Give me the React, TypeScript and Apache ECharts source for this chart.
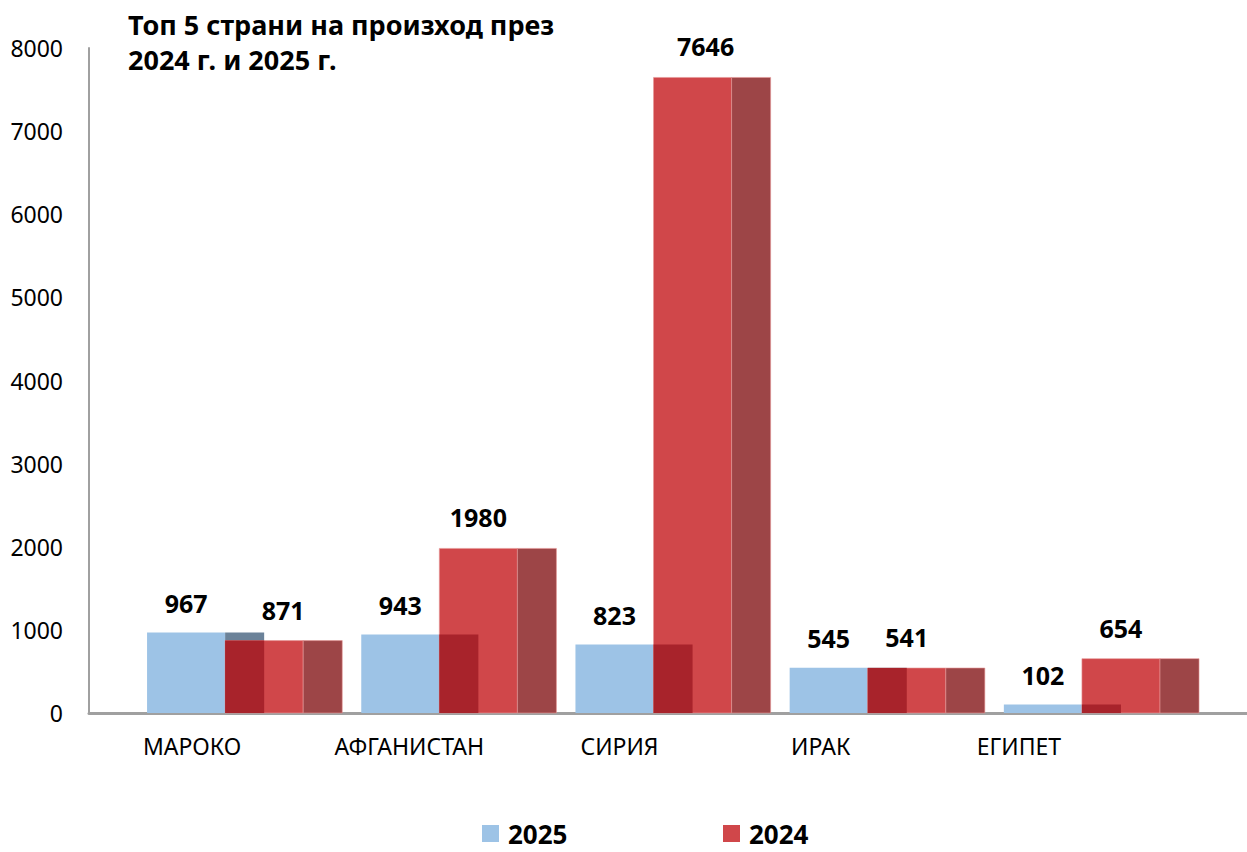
import React, { useEffect, useRef } from 'react';
import * as echarts from 'echarts';

const categories = ['МАРОКО', 'АФГАНИСТАН', 'СИРИЯ', 'ИРАК', 'ЕГИПЕТ'];
const values2025 = [967, 943, 823, 545, 102];
const values2024 = [871, 1980, 7646, 541, 654];
const seriesNames = ['2025', '2024'];
const yMin = 0;
const yMax = 8000;
const yInterval = 1000;
const titleLines = ['Топ 5 страни на произход през', '2024 г. и 2025 г.'];

// style-only nudges (px) for labels, as in the reference layout
const categoryLabelShift = [-4, -1, -5, -18, -34];
const label2024Shift = [19, 0, 13, 0, 0];

const FONT = '"Noto Sans", "Open Sans", sans-serif';
const C_BLUE = '#9dc3e6';
const C_BLUE_SIDE = '#6b8299';
const C_RED = '#d0474a';
const C_RED_SIDE = '#9d4547';
const C_OVERLAP = '#a8232b';

// geometry of the pseudo-3D columns as fractions of the band width (214px)
const BAND = 214;
const BLUE_START = -49;
const FRONT_W = 78;
const SIDE_W = 39;

export default function App() {
  const ref = useRef<HTMLDivElement>(null);
  useEffect(() => {
    document.body.style.margin = '0';
    if (!ref.current) return;
    const chart = echarts.init(ref.current, undefined, { renderer: 'svg' });

    const rich: Record<string, any> = {};
    categoryLabelShift.forEach((d, i) => {
      rich['l' + i] = {
        fontSize: 23,
        fontFamily: FONT,
        color: '#000',
        padding: d < 0 ? [0, -2 * d, 0, 0] : [0, 0, 0, 2 * d],
      };
    });

    const valueLabelStyle = (text: string) => ({
      text,
      fill: '#000',
      font: `bold 25px ${FONT}`,
      align: 'center',
      verticalAlign: 'middle',
    });

    const legendBase = {
      top: 820,
      padding: 0,
      itemWidth: 17,
      itemHeight: 17,
      icon: 'rect',
      textStyle: { fontSize: 26, lineHeight: 27, fontWeight: 'bold', color: '#000', fontFamily: FONT, padding: [0, 0, 0, 4] },
    };

    const option: any = {
      animation: false,
      backgroundColor: '#fff',
      title: {
        text: titleLines.join('\n'),
        left: 128,
        top: 7,
        padding: 0,
        textStyle: { fontSize: 27, fontWeight: 'bold', lineHeight: 35, fontFamily: FONT, color: '#000' },
      },
      legend: [
        { ...legendBase, data: [seriesNames[0]], left: 482 },
        { ...legendBase, data: [seriesNames[1]], left: 723 },
      ],
      grid: [
        { left: 89, right: 87, top: 48, bottom: 139 },
        { left: 89, right: 0, top: 48, bottom: 139 },
      ],
      xAxis: [
        {
          gridIndex: 0,
          type: 'category',
          data: categories,
          axisLine: { show: false },
          axisTick: { show: false },
          axisLabel: {
            interval: 0,
            margin: 21,
            fontSize: 23,
            fontFamily: FONT,
            color: '#000',
            formatter: (v: string, idx: number) => `{l${idx}|${v}}`,
            rich,
          },
        },
        {
          gridIndex: 1,
          type: 'category',
          data: categories,
          axisLine: { show: true, lineStyle: { color: '#a0a0a0', width: 3 } },
          axisTick: { show: false },
          axisLabel: { show: false },
        },
      ],
      yAxis: [
        {
          gridIndex: 0,
          type: 'value',
          min: yMin,
          max: yMax,
          interval: yInterval,
          axisLine: { show: true, lineStyle: { color: '#a0a0a0', width: 2 } },
          axisTick: { show: false },
          splitLine: { show: false },
          axisLabel: { margin: 26, fontSize: 23, fontFamily: FONT, color: '#000', formatter: (v: number) => String(v) },
        },
        { gridIndex: 1, type: 'value', min: yMin, max: yMax, show: false },
      ],
      series: [
        {
          name: seriesNames[0],
          type: 'custom',
          xAxisIndex: 0,
          yAxisIndex: 0,
          itemStyle: { color: C_BLUE },
          data: values2025.map((v, i) => [i, v]),
          renderItem: (params: any, api: any) => {
            const i = api.value(0);
            const v = api.value(1);
            const [cx, y] = api.coord([i, v]);
            const y0 = api.coord([i, 0])[1];
            const u = api.size([1, 0])[0] / BAND;
            const x0 = cx + BLUE_START * u;
            const fw = FRONT_W * u;
            const sw = SIDE_W * u;
            return {
              type: 'group',
              children: [
                { type: 'rect', shape: { x: x0, y, width: fw, height: y0 - y }, style: { fill: C_BLUE } },
                { type: 'rect', shape: { x: x0 + fw, y, width: sw, height: y0 - y }, style: { fill: C_BLUE_SIDE } },
                { type: 'text', x: x0 + fw / 2, y: y - 30, z2: 10, style: valueLabelStyle(String(v)) },
              ],
            };
          },
        },
        {
          name: seriesNames[1],
          type: 'custom',
          xAxisIndex: 0,
          yAxisIndex: 0,
          itemStyle: { color: C_RED },
          data: values2024.map((v, i) => [i, v, values2025[i]]),
          renderItem: (params: any, api: any) => {
            const i = api.value(0);
            const v = api.value(1);
            const vb = api.value(2);
            const [cx, y] = api.coord([i, v]);
            const y0 = api.coord([i, 0])[1];
            const yo = api.coord([i, Math.min(v, vb)])[1];
            const u = api.size([1, 0])[0] / BAND;
            const x0 = cx + (BLUE_START + FRONT_W) * u;
            const fw = FRONT_W * u;
            const sw = SIDE_W * u;
            return {
              type: 'group',
              children: [
                { type: 'rect', shape: { x: x0, y, width: fw, height: y0 - y }, style: { fill: C_RED, stroke: 'rgba(230,150,150,0.6)', lineWidth: 1 } },
                { type: 'rect', shape: { x: x0 + fw, y, width: sw, height: y0 - y }, style: { fill: C_RED_SIDE, stroke: 'rgba(230,150,150,0.6)', lineWidth: 1 } },
                { type: 'rect', shape: { x: x0, y: yo, width: sw, height: y0 - yo }, style: { fill: C_OVERLAP } },
                { type: 'text', x: x0 + fw / 2 + label2024Shift[i] * u, y: y - 31, z2: 10, style: valueLabelStyle(String(v)) },
              ],
            };
          },
        },
      ],
    };
    chart.setOption(option);
    return () => chart.dispose();
  }, []);
  return <div ref={ref} style={{ width: 1247, height: 852 }} />;
}
